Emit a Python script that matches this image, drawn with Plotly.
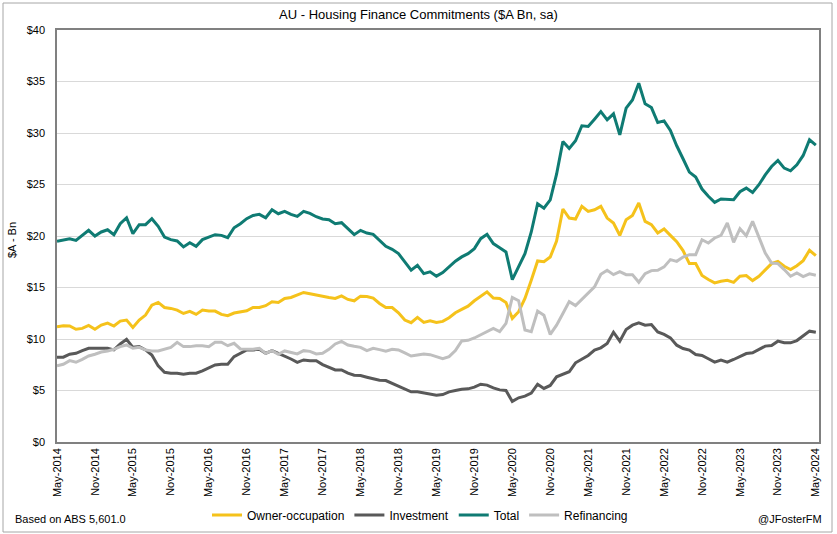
import pandas as pd
import plotly.graph_objects as go

months = [d.strftime("%b-%Y") for d in pd.date_range("2014-05-01", "2024-05-01", freq="MS")]

owner_occupation = [
    11.19, 11.29, 11.26, 10.94, 11.03, 11.32, 10.94, 11.35, 11.55, 11.26, 11.74, 11.84, 11.13, 11.84, 12.32, 13.29,
    13.55, 13.06, 12.97, 12.81, 12.48, 12.68, 12.39, 12.81, 12.71, 12.71, 12.39, 12.26, 12.52, 12.65, 12.74, 13.06,
    13.06, 13.23, 13.61, 13.55, 13.94, 14.03, 14.26, 14.52, 14.40,
    14.26, 14.16, 14.03, 13.94, 14.19, 13.84, 13.71, 14.16, 14.13, 13.97, 13.45, 13.06, 13.06, 12.55, 11.84, 11.58,
    12.10, 11.61, 11.77, 11.61, 11.71, 12.06, 12.55, 12.87, 13.19, 13.71, 14.19, 14.58, 13.97, 13.94, 13.55, 12.00,
    12.65, 13.94, 15.71, 17.58, 17.50, 17.96, 19.50,
    22.62, 21.74, 21.65, 22.88, 22.39, 22.55, 22.88, 21.74, 21.26, 20.06, 21.58, 22.00, 23.20, 21.42, 21.10, 20.29,
    20.68, 20.06, 19.45, 18.58, 17.32, 17.32, 16.16, 15.77, 15.45, 15.61, 15.70, 15.50, 16.09, 16.16, 15.67, 16.09,
    16.74, 17.32, 17.54, 17.06, 16.74, 17.12, 17.61, 18.61, 18.09,
]

investment = [
    8.23, 8.23, 8.52, 8.61, 8.87, 9.10, 9.10, 9.10, 9.10, 8.94, 9.52, 9.97, 9.19, 9.26, 8.94, 8.45,
    7.39, 6.77, 6.68, 6.68, 6.58, 6.68, 6.68, 6.90, 7.23, 7.48, 7.55, 7.55, 8.29, 8.61, 8.94, 8.94,
    9.00, 8.61, 8.87, 8.61, 8.35, 8.06, 7.74, 7.97, 7.90,
    7.90, 7.52, 7.23, 7.00, 7.00, 6.68, 6.48, 6.45, 6.29, 6.16, 6.00, 5.97, 5.68, 5.45, 5.16, 4.87,
    4.87, 4.77, 4.71, 4.55, 4.61, 4.87, 5.00, 5.13, 5.16, 5.32, 5.61, 5.52, 5.26, 5.06, 5.00, 3.94,
    4.29, 4.45, 4.74, 5.61, 5.20, 5.49, 6.33,
    6.56, 6.82, 7.69, 8.08, 8.40, 8.92, 9.14, 9.56, 10.66, 9.79, 10.92, 11.34, 11.57, 11.34, 11.41, 10.69,
    10.44, 10.11, 9.40, 9.08, 8.92, 8.50, 8.40, 8.08, 7.75, 7.95, 7.75, 8.01, 8.34, 8.59, 8.66, 8.98,
    9.31, 9.37, 9.79, 9.63, 9.63, 9.85, 10.27, 10.76, 10.66,
]

total = [
    19.48, 19.58, 19.74, 19.58, 20.06, 20.55, 20.00, 20.39, 20.61, 20.13, 21.19, 21.77, 20.23, 21.10, 21.10, 21.68,
    20.94, 19.90, 19.65, 19.52, 18.94, 19.35, 19.00, 19.65, 19.90, 20.13, 20.06, 19.84, 20.80, 21.19, 21.68, 22.00,
    22.10, 21.77, 22.55, 22.16, 22.39, 22.10, 21.90, 22.39, 22.20,
    21.87, 21.65, 21.58, 21.19, 21.29, 20.71, 20.13, 20.55, 20.29, 20.16, 19.58, 19.00, 18.71, 18.29, 17.48, 16.68,
    17.16, 16.35, 16.52, 16.10, 16.45, 17.00, 17.55, 17.97, 18.29, 18.77, 19.74, 20.16, 19.26, 18.87, 18.45, 15.77,
    17.00, 18.29, 20.39, 23.13, 22.70, 23.50, 26.00,
    29.18, 28.50, 29.24, 30.70, 30.63, 31.34, 32.08, 31.28, 31.86, 29.82, 32.41, 33.21, 34.83, 32.83, 32.47, 31.02,
    31.18, 30.24, 28.76, 27.50, 26.20, 25.72, 24.56, 23.85, 23.26, 23.59, 23.52, 23.52, 24.30, 24.65, 24.23, 24.98,
    25.94, 26.75, 27.33, 26.59, 26.33, 26.91, 27.82, 29.34, 28.82,
]

refinancing = [
    7.39, 7.55, 7.90, 7.74, 8.03, 8.35, 8.52, 8.74, 8.84, 9.00, 9.26, 9.42, 9.10, 9.19, 8.94, 8.84,
    8.84, 9.03, 9.19, 9.68, 9.26, 9.26, 9.35, 9.35, 9.26, 9.68, 9.68, 9.35, 9.58, 9.03, 9.00, 9.00,
    9.10, 8.61, 8.87, 8.52, 8.84, 8.71, 8.55, 8.87, 8.80,
    8.55, 8.61, 9.00, 9.52, 9.77, 9.42, 9.29, 9.19, 8.87, 9.10, 8.97, 8.81, 9.00, 8.94, 8.65, 8.35,
    8.45, 8.55, 8.48, 8.32, 8.10, 8.29, 8.87, 9.81, 9.87, 10.10, 10.42, 10.77, 11.03, 10.71, 11.52, 14.03,
    13.71, 10.87, 10.71, 12.71, 12.30, 10.44, 11.34,
    12.47, 13.63, 13.25, 13.83, 14.47, 15.06, 16.28, 16.67, 16.25, 16.54, 16.25, 16.25, 15.51, 16.35, 16.64, 16.67,
    17.00, 17.71, 17.54, 17.96, 18.19, 18.19, 19.64, 19.32, 19.81, 20.06, 21.26, 19.39, 20.71, 20.03, 21.42, 19.97,
    18.35, 17.38, 17.32, 16.74, 16.09, 16.41, 16.06, 16.32, 16.19,
]

y_ticks = [0, 5, 10, 15, 20, 25, 30, 35, 40]
y_tick_labels = ["$0", "$5", "$10", "$15", "$20", "$25", "$30", "$35", "$40"]

series = [
    ("Owner-occupation", owner_occupation, "#F5C21B"),
    ("Investment", investment, "#595959"),
    ("Total", total, "#0F7B73"),
    ("Refinancing", refinancing, "#BFBFBF"),
]

FONT = "Liberation Sans, Arial, sans-serif"
idx = list(range(len(months)))

fig = go.Figure()
for name, vals, col in series:
    fig.add_trace(go.Scatter(
        x=idx, y=vals, name=name, mode="lines",
        line=dict(color=col, width=3),
    ))

tick_pos = idx[::6]
tick_txt = [months[i] for i in tick_pos]

W, H = 837, 534
L, R, T, B = 57, 18, 30, 92
pw, ph = W - L - R, H - T - B

def px(x):
    return (x - L) / pw

def py(y):
    return (H - B - y) / ph

fig.update_layout(
    width=W, height=H,
    margin=dict(l=L, r=R, t=T, b=B, autoexpand=False),
    paper_bgcolor="white", plot_bgcolor="white",
    font=dict(family=FONT, size=11, color="#000000"),
    title=dict(text="AU - Housing Finance Commitments ($A Bn, sa)", x=0.5, xref="container",
               y=1 - 14 / H, yref="container", yanchor="middle", xanchor="center",
               font=dict(family=FONT, size=13, color="#000000")),
    showlegend=True,
    legend=dict(orientation="h", x=px(420), xanchor="center", y=py(515), yanchor="middle",
                font=dict(family=FONT, size=12), itemwidth=30, tracegroupgap=0,
                bgcolor="rgba(0,0,0,0)"),
    xaxis=dict(range=[0, 120.5], tickmode="array", tickvals=tick_pos, ticktext=tick_txt,
               tickangle=-90, showgrid=False, zeroline=False, showline=True, linecolor="#808080",
               linewidth=1.5, mirror=True, ticks="", tickfont=dict(size=11)),
    yaxis=dict(range=[0, 40], tickmode="array", tickvals=y_ticks, ticktext=y_tick_labels,
               showgrid=True, gridcolor="#D9D9D9", gridwidth=1, zeroline=False, showline=True,
               linecolor="#808080", linewidth=1.5, mirror=True, ticks="", ticklabelstandoff=8,
               tickfont=dict(size=11)),
    shapes=[dict(type="rect", xref="paper", yref="paper", x0=px(3), x1=px(832), y0=py(532), y1=py(3),
                 line=dict(color="#A6A6A6", width=1), fillcolor="rgba(0,0,0,0)", layer="below")],
    annotations=[
        dict(text="$A - Bn", xref="paper", yref="paper", x=px(12), y=py(240), textangle=-90,
             showarrow=False, xanchor="center", yanchor="middle", font=dict(size=11)),
        dict(text="Based on ABS 5,601.0", xref="paper", yref="paper", x=px(13), y=py(519),
             showarrow=False, xanchor="left", yanchor="middle", font=dict(size=11)),
        dict(text="@JFosterFM", xref="paper", yref="paper", x=px(824), y=py(519),
             showarrow=False, xanchor="right", yanchor="middle", font=dict(size=11)),
    ],
)

fig.write_html("out.html", config={"displayModeBar": False},
               post_script="document.body.style.margin='0';document.body.style.overflow='hidden';")
